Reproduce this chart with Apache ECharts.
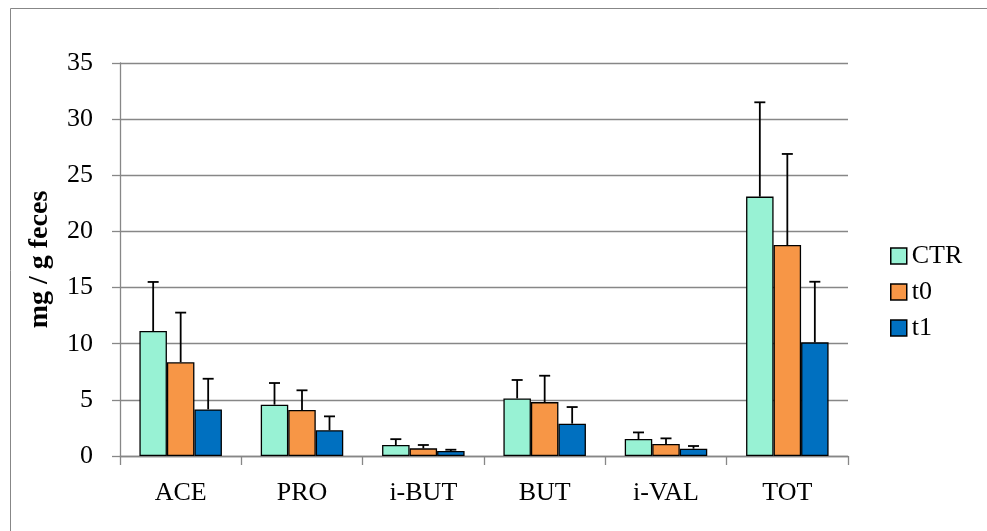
<!DOCTYPE html>
<html><head><meta charset="utf-8">
<script src="https://cdn.jsdelivr.net/npm/echarts@6/dist/echarts.min.js"></script>
<style>html,body{margin:0;padding:0;background:#fff}#c{width:987px;height:531px}</style>
</head><body><div id="c"></div>
<script>
const categories = ['ACE', 'PRO', 'i-BUT', 'BUT', 'i-VAL', 'TOT'];
const seriesNames = ['CTR', 't0', 't1'];
const ctrMean = [11.13, 4.57, 0.98, 5.13, 1.51, 23.1];
const t0Mean = [8.35, 4.1, 0.68, 4.8, 1.07, 18.79];
const t1Mean = [4.15, 2.29, 0.44, 2.88, 0.65, 10.12];
const ctrSd = [4.37, 1.93, 0.52, 1.64, 0.59, 8.4];
const t0Sd = [4.42, 1.75, 0.3, 2.35, 0.5, 8.11];
const t1Sd = [2.73, 1.24, 0.12, 1.48, 0.24, 5.4];
const yTicks = [0, 5, 10, 15, 20, 25, 30, 35];

const colors = ['#98F2D4', '#F79646', '#0070C0'];
const means = [ctrMean, t0Mean, t1Mean];
const sds = [ctrSd, t0Sd, t1Sd];
const FONT = '"Liberation Serif", "DejaVu Serif", serif';
const catGap = 0.32;

const chart = echarts.init(document.getElementById('c'));
const series = [];
seriesNames.forEach((name, i) => {
  series.push({
    name, type: 'bar', data: means[i], barGap: '0%', barCategoryGap: '32%',
    itemStyle: { color: colors[i], borderColor: '#000', borderWidth: 1.3 },
    z: 2
  });
});
seriesNames.forEach((name, i) => {
  series.push({
    type: 'custom', z: 5, silent: true,
    data: means[i].map((m, k) => [k, m, m + sds[i][k]]),
    renderItem: function (params, api) {
      const k = api.value(0);
      const bottom = api.coord([k, api.value(1)]);
      const top = api.coord([k, api.value(2)]);
      const band = api.size([1, 0])[0];
      const bw = band * (1 - catGap) / 3;
      const x = bottom[0] + (i - 1) * bw;
      const cap = 5.5;
      return {
        type: 'group',
        children: [
          { type: 'line', shape: { x1: x, y1: bottom[1], x2: x, y2: top[1] }, style: { stroke: '#000', lineWidth: 1.8 } },
          { type: 'line', shape: { x1: x - cap, y1: top[1], x2: x + cap, y2: top[1] }, style: { stroke: '#000', lineWidth: 1.8 } }
        ]
      };
    }
  });
});

chart.setOption({
  animation: false,
  backgroundColor: '#fff',
  textStyle: { fontFamily: FONT },
  graphic: [{
    type: 'rect', shape: { x: 10.5, y: 8.5, width: 1000, height: 600 },
    style: { fill: 'none', stroke: '#878787', lineWidth: 1 }, z: -10, silent: true
  }],
  grid: { left: 120, right: 139, top: 63, bottom: 75 },
  legend: {
    data: seriesNames, orient: 'vertical', left: 885, top: 238,
    icon: 'rect', itemWidth: 16, itemHeight: 16, itemGap: 10,
    textStyle: { fontFamily: FONT, fontSize: 26, color: '#000' },
    itemStyle: { borderColor: '#000', borderWidth: 1.5 }
  },
  xAxis: {
    type: 'category', data: categories,
    axisLine: { lineStyle: { color: '#878787', width: 1.3 } },
    axisTick: { show: true, length: 9, lineStyle: { color: '#878787', width: 1.3 } },
    axisLabel: { fontFamily: FONT, fontSize: 26, color: '#000', margin: 24 }
  },
  yAxis: {
    type: 'value', min: 0, max: 35, interval: 5,
    name: 'mg / g feces', nameLocation: 'middle', nameGap: 66, nameRotate: 90,
    nameTextStyle: { fontFamily: FONT, fontSize: 28, fontWeight: 'bold', color: '#000' },
    axisLine: { show: true, lineStyle: { color: '#878787', width: 1.3 } },
    axisTick: { show: true, length: 8, lineStyle: { color: '#878787', width: 1.3 } },
    axisLabel: { fontFamily: FONT, fontSize: 26, color: '#000', margin: 27,
      formatter: v => yTicks.includes(v) ? String(v) : '' },
    splitLine: { lineStyle: { color: '#878787', width: 1.3 } }
  },
  series
});
</script></body></html>
